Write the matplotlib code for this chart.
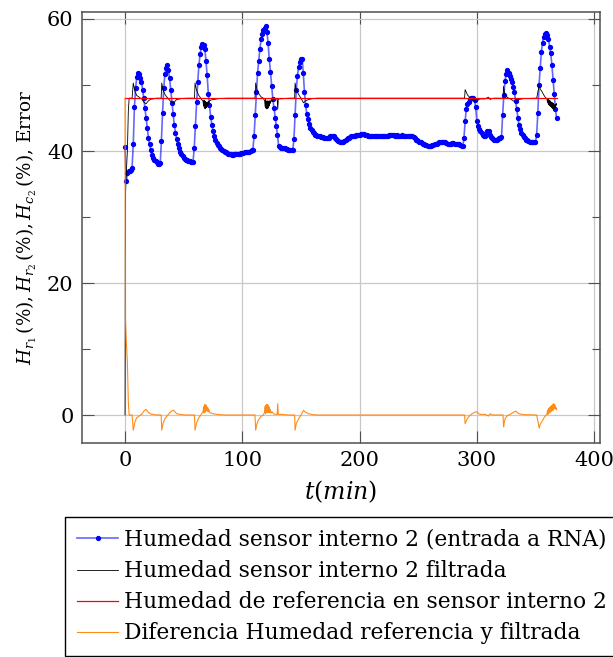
import matplotlib
matplotlib.use("Agg")
import matplotlib.pyplot as plt
import numpy as np

# --- data --------------------------------------------------------------
# raw humidity of internal sensor 2, one sample per minute (t = 0 .. 368)
t_blue = np.arange(0, 369)
h_blue = [
    40.6, 35.4, 36.6, 36.9, 37.0, 37.1, 37.4, 41.0, 46.7, 49.5,
    51.2, 51.8, 51.6, 51.0, 50.5, 49.3, 48.0, 46.5, 45.0, 43.5,
    41.9, 41.0, 40.1, 39.4, 39.0, 38.7, 38.5, 38.3, 38.1, 38.0,
    38.2, 41.5, 45.8, 49.5, 51.7, 52.6, 53.0, 52.2, 51.0, 49.2,
    47.3, 45.6, 43.9, 42.8, 41.8, 41.0, 40.4, 39.9, 39.5, 39.2,
    39.0, 38.8, 38.7, 38.6, 38.5, 38.5, 38.4, 38.4, 38.4, 40.5,
    43.8, 47.4, 50.5, 53.0, 54.7, 55.7, 56.2, 56.1, 55.5, 53.7,
    51.5, 48.7, 46.9, 45.2, 44.0, 43.0, 42.3, 41.7, 41.2, 40.9,
    40.7, 40.5, 40.3, 40.1, 40.0, 39.9, 39.8, 39.7, 39.6, 39.5,
    39.5, 39.4, 39.4, 39.5, 39.5, 39.5, 39.6, 39.6, 39.6, 39.7,
    39.7, 39.7, 39.8, 39.8, 39.8, 39.9, 39.9, 40.0, 40.1, 40.2,
    42.2, 45.5, 49.0, 51.8, 53.6, 55.5, 56.9, 57.7, 58.3, 58.7,
    58.9, 58.1, 56.3, 53.9, 52.0, 49.9, 47.9, 46.5, 45.0, 43.8,
    42.4, 40.7, 40.6, 40.5, 40.5, 40.4, 40.4, 40.3, 40.3, 40.2,
    40.2, 40.2, 40.1, 40.1, 41.8, 45.5, 49.2, 51.4, 52.7, 53.5,
    53.9, 54.0, 51.8, 48.9, 46.9, 45.6, 44.8, 44.1, 43.5, 43.2,
    42.9, 42.7, 42.5, 42.4, 42.3, 42.2, 42.2, 42.1, 42.1, 42.1,
    42.0, 42.0, 42.0, 41.9, 42.0, 42.2, 42.3, 42.3, 42.2, 42.0,
    41.8, 41.6, 41.5, 41.4, 41.4, 41.4, 41.4, 41.5, 41.6, 41.8,
    41.9, 42.0, 42.1, 42.2, 42.2, 42.2, 42.3, 42.4, 42.4, 42.5,
    42.5, 42.6, 42.6, 42.6, 42.6, 42.5, 42.4, 42.3, 42.3, 42.2,
    42.2, 42.2, 42.2, 42.2, 42.2, 42.2, 42.2, 42.2, 42.2, 42.2,
    42.2, 42.2, 42.2, 42.3, 42.3, 42.4, 42.4, 42.4, 42.5, 42.4,
    42.3, 42.3, 42.4, 42.3, 42.3, 42.3, 42.4, 42.3, 42.3, 42.3,
    42.3, 42.3, 42.3, 42.3, 42.3, 42.2, 42.1, 41.9, 41.7, 41.6,
    41.5, 41.4, 41.3, 41.2, 41.1, 41.0, 40.9, 40.9, 40.8, 40.8,
    40.8, 40.8, 40.9, 40.9, 41.0, 41.1, 41.1, 41.2, 41.3, 41.3,
    41.4, 41.4, 41.4, 41.3, 41.2, 41.1, 41.0, 41.0, 41.1, 41.2,
    41.2, 41.1, 41.1, 41.0, 41.1, 41.0, 40.9, 40.8, 40.7, 42.0,
    44.5, 46.4, 47.1, 47.5, 47.9, 48.1, 48.1, 48.0, 47.8, 46.6,
    44.5, 43.8, 43.4, 43.0, 42.7, 42.5, 42.3, 42.2, 42.5, 43.0,
    43.1, 42.5, 42.1, 41.9, 41.8, 41.7, 41.7, 41.7, 41.8, 41.9,
    42.0, 42.1, 45.5, 48.5, 50.6, 51.7, 52.2, 51.8, 51.4, 50.9,
    50.4, 49.7, 49.0, 47.6, 46.4, 45.0, 43.9, 43.3, 42.8, 42.4,
    42.1, 41.9, 41.7, 41.6, 41.5, 41.4, 41.4, 41.3, 41.3, 41.3,
    41.3, 42.5, 45.8, 50.0, 52.5, 55.0, 56.4, 57.3, 57.7, 57.9,
    57.5, 57.0, 55.8, 54.8, 53.0, 50.8, 48.6, 46.4, 45.0,
]

# filtered humidity (irregular time stamps)
t_filt = [
    0, 0.3, 1.0, 2.0, 2.8, 3.5, 6.0, 7.0, 8.5, 10, 11.4, 13, 14.2, 16,
    17.9, 19.9, 22, 24, 27, 30.8, 31.3, 32.5, 34.2, 37, 39, 41.2, 44, 48,
    52.6, 59.2, 59.7, 61, 62.6, 65.4, 66.5, 67, 67.3, 67.6, 67.9, 68.2,
    68.5, 68.8, 69.1, 69.4, 69.7, 70, 70.3, 70.6, 71, 71.5, 72, 73, 75.3,
    80, 86.7, 110.8, 111.4, 112.5, 113.6, 116, 117.9, 119, 119.5, 119.8,
    120.1, 120.4, 120.7, 121, 121.3, 121.6, 121.9, 122.2, 122.5, 122.8,
    123.1, 123.5, 124, 124.5, 125.5, 126.5, 128, 129.7, 130.2, 130.7,
    132.2, 140, 144.6, 145, 146, 147.9, 150, 152.2, 154, 156.5, 160,
    163.6, 289.5, 290, 291, 292, 294, 296, 298, 300, 301.5, 303, 307,
    309.9, 311.4, 312.5, 315, 322.3, 322.8, 323.5, 324.2, 326, 328.5,
    331, 333.3, 335.6, 340, 351, 353.2, 354, 355.5, 357, 358.5, 359.7,
    360.2, 360.5, 360.8, 361.1, 361.4, 361.7, 362, 362.3, 362.6, 362.9,
    363.2, 363.5, 363.8, 364.1, 364.4, 364.7, 365, 365.3, 365.6, 365.9,
    366.2, 366.5, 366.8, 367.2, 367.6, 368,
]
h_filt = [
    0.0, 33.0, 36.5, 40.0, 46.0, 48.0, 48.0, 50.3, 49.0, 48.4, 48.25, 48.0, 47.9, 47.4,
    47.15, 47.6, 47.85, 47.9, 48.0, 48.0, 50.3, 49.2, 48.5, 47.9, 47.5, 47.25, 47.8, 47.95,
    48.0, 48.0, 50.3, 49.2, 48.5, 47.8, 47.5, 46.8, 47.7, 46.6, 47.6, 46.4,
    47.5, 46.5, 47.4, 46.6, 47.3, 46.8, 47.4, 46.9, 47.5, 47.2, 47.6, 47.7, 47.8,
    47.95, 48.0, 48.0, 50.3, 49.3, 48.8, 48.2, 48.0, 47.6, 46.7, 47.8,
    46.5, 47.6, 46.4, 47.5, 46.4, 47.6, 46.5, 47.5, 46.7, 47.6,
    46.9, 47.6, 47.2, 47.7, 47.5, 47.8, 47.9, 47.9, 46.3, 47.9,
    47.9, 48.0, 48.0, 50.3, 49.3, 48.6, 48.0, 47.3, 47.6, 47.8, 47.95,
    48.0, 48.0, 49.3, 48.9, 48.5, 48.1, 47.8, 47.6, 47.5, 47.8, 47.9, 47.9,
    48.15, 47.8, 47.95, 48.0, 48.0, 49.8, 49.0, 48.5, 48.1, 47.9,
    47.6, 47.4, 47.8, 47.95, 48.0, 50.0, 49.4, 49.0, 48.5, 48.1, 47.9,
    47.4, 47.9, 47.2, 47.8, 47.0, 47.7, 46.9, 47.6, 46.8, 47.5,
    46.7, 47.4, 46.6, 47.3, 46.5, 47.3, 46.4, 47.2, 46.3, 47.0,
    46.4, 47.0, 46.6, 47.1, 46.9, 47.2,
]

# reference (set point) humidity
t_ref = [0, 368]
h_ref = [48.0, 48.0]

x_ticks = [0, 100, 200, 300, 400]
y_ticks = [0, 20, 40, 60]
y_minor = [10, 30, 50]

labels = [
    "Humedad sensor interno 2 (entrada a RNA)",
    "Humedad sensor interno 2 filtrada",
    "Humedad de referencia en sensor interno 2",
    "Diferencia Humedad referencia y filtrada",
]

# difference reference - filtered on the filtered time stamps
ref_on_filt = np.interp(t_filt, t_ref, h_ref)
h_diff = ref_on_filt - np.array(h_filt)

# --- figure --------------------------------------------------------------
plt.rcParams["font.family"] = ["DejaVu Serif"]
plt.rcParams["mathtext.fontset"] = "dejavuserif"

fig = plt.figure(figsize=(6.13, 6.57), dpi=100)
ax = fig.add_axes([82 / 613, 1 - 443 / 657, 518 / 613, 431 / 657])

ax.plot(t_blue, h_blue, color=(0, 0, 1, 0.6), lw=1.2, marker="o", ms=2.8,
        mfc="blue", mec="blue", label=labels[0], zorder=2)
ax.plot(t_filt, h_filt, color="black", lw=0.6, label=labels[1], zorder=3)
ax.plot(t_ref, h_ref, color="red", lw=0.9, label=labels[2], zorder=4)
ax.plot(t_filt, h_diff, color="#ff8000", lw=0.8, alpha=0.9, label=labels[3], zorder=5)

ax.set_xlim(-36.7, 405)
ax.set_ylim(-4.24, 61.06)
ax.set_xticks(x_ticks)
ax.set_yticks(y_ticks)
ax.set_yticks(y_minor, minor=True)
ax.grid(True, which="major", color="#c8c8c8", lw=0.9)
ax.set_axisbelow(True)
ax.tick_params(which="both", direction="in", top=True, right=True,
               color="#505050", labelsize=15, pad=6)
ax.tick_params(which="major", length=8.5, width=0.8)
ax.tick_params(which="minor", length=5.5, width=0.8)
for sp in ax.spines.values():
    sp.set_color("#505050")
    sp.set_linewidth(1.1)

ax.set_xlabel(r"$t(min)$", fontsize=17, labelpad=6)
ax.set_ylabel(r"$H_{r_1}\,(\%), H_{r_2}\,(\%), H_{c_2}\,(\%)$, Error", fontsize=13.2,
              labelpad=6)

fig.legend(loc="upper left", bbox_to_anchor=(65 / 613, 1 - 517 / 657),
           fontsize=15.7, frameon=True, fancybox=False, edgecolor="black",
           framealpha=1, numpoints=1, handlelength=1.9, handletextpad=0.25,
           labelspacing=0.42, borderpad=0.55, borderaxespad=0)

fig.savefig("out.png", dpi=100)
